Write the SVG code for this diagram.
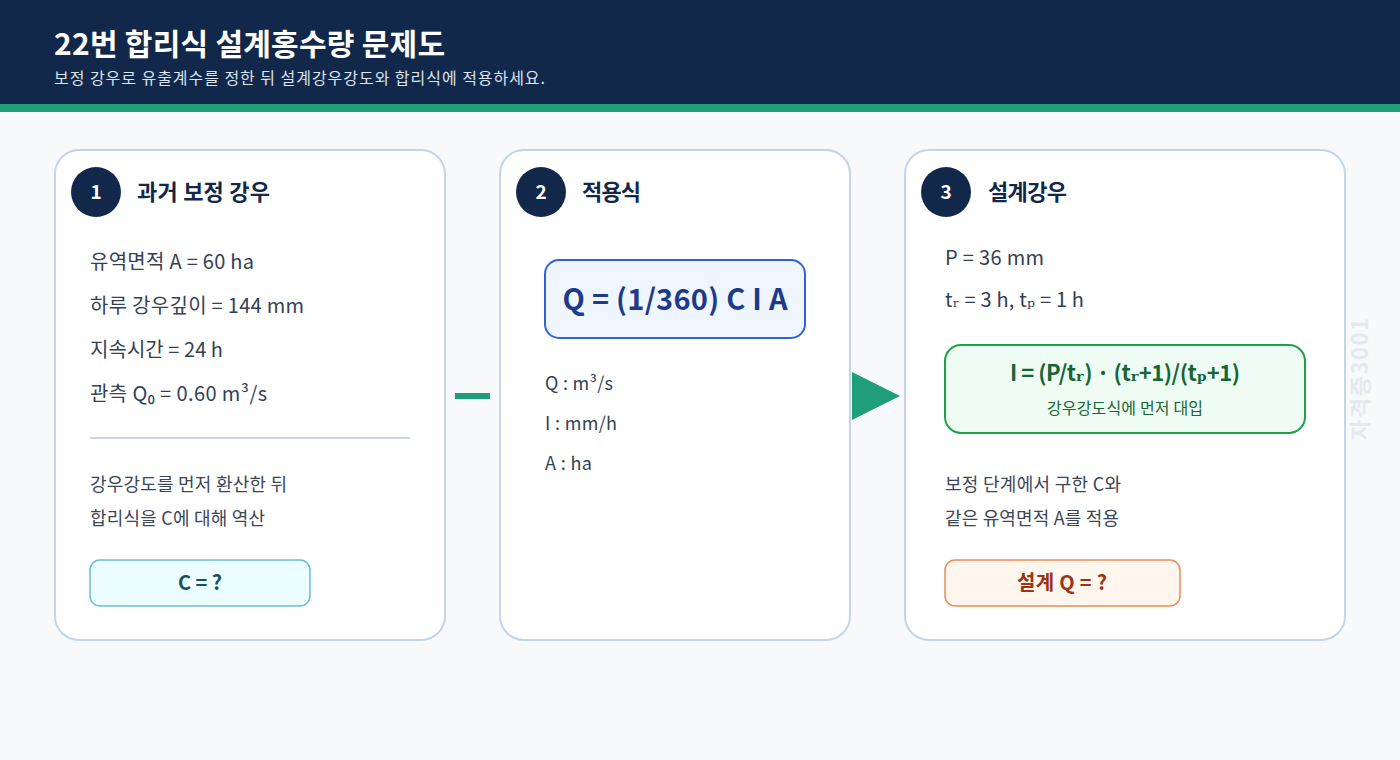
<svg xmlns="http://www.w3.org/2000/svg" width="1400" height="760" viewBox="0 0 1400 760">
<style>
text{font-family:"Noto Sans CJK KR","Noto Sans",sans-serif}
.card{fill:#ffffff;stroke:#c3d5e8;stroke-width:2}
.num{fill:#12284a}
.numt{fill:#ffffff;font-size:19px;font-weight:700;text-anchor:middle}
.ttl{fill:#12284a;font-size:22px;font-weight:700}
.body{fill:#334155;font-size:20px}
.small{fill:#3b4656;font-size:18px}
.unit{fill:#334155;font-size:18px}
.sub{font-family:"DejaVu Serif",serif}
</style>
<rect x="0" y="0" width="1400" height="760" fill="#f7f9fb"/>
<rect x="0" y="0" width="1400" height="104" fill="#12284a"/>
<rect x="0" y="104" width="1400" height="8" fill="#1f9e7a"/>
<text x="54" y="55" fill="#ffffff" font-size="30" font-weight="700" textLength="391" lengthAdjust="spacing">22번 합리식 설계홍수량 문제도</text>
<text x="54" y="84" fill="#dbe4ef" font-size="16" textLength="491" lengthAdjust="spacing">보정 강우로 유출계수를 정한 뒤 설계강우강도와 합리식에 적용하세요.</text>
<text transform="translate(1368,379) rotate(-90)" text-anchor="middle" fill="#e5e9ef" font-size="22" font-weight="700" textLength="122" lengthAdjust="spacing">자격증3001</text>
<g id="connectors">
<rect x="455" y="393" width="35" height="6" fill="#1f9e7a"/>
<polygon points="852,372 900,396 852,420" fill="#1f9e7a"/>
</g>
<g id="card1">
<rect class="card" x="55" y="150" width="390" height="490" rx="24"/>
<circle class="num" cx="96" cy="192" r="25"/>
<text class="numt" x="96" y="199">1</text>
<text class="ttl" x="137" y="200" textLength="133" lengthAdjust="spacing">과거 보정 강우</text>
<text class="body" x="90" y="269" textLength="164" lengthAdjust="spacing">유역면적 A = 60 ha</text>
<text class="body" x="90" y="313" textLength="214" lengthAdjust="spacing">하루 강우깊이 = 144 mm</text>
<text class="body" x="90" y="357" textLength="133" lengthAdjust="spacing">지속시간 = 24 h</text>
<text class="body" x="90" y="401" textLength="177" lengthAdjust="spacing">관측 Q₀ = 0.60 m³/s</text>
<line x1="90" y1="438" x2="410" y2="438" stroke="#cbd5e1" stroke-width="2"/>
<text class="small" x="90" y="491" textLength="197" lengthAdjust="spacing">강우강도를 먼저 환산한 뒤</text>
<text class="small" x="90" y="525" textLength="175" lengthAdjust="spacing">합리식을 C에 대해 역산</text>
<rect x="90" y="560" width="220" height="46" rx="10" fill="#ecfeff" stroke="#6cbdd0" stroke-width="1.5"/>
<text x="200" y="590" text-anchor="middle" fill="#164e63" font-size="20" font-weight="700" textLength="44" lengthAdjust="spacing">C = ?</text>
</g>
<g id="card2">
<rect class="card" x="500" y="150" width="350" height="490" rx="24"/>
<circle class="num" cx="541" cy="192" r="25"/>
<text class="numt" x="541" y="199">2</text>
<text class="ttl" x="582" y="200" textLength="59" lengthAdjust="spacing">적용식</text>
<rect x="545" y="260" width="260" height="78" rx="14" fill="#eff6ff" stroke="#2f63dd" stroke-width="2"/>
<text x="675" y="310" text-anchor="middle" fill="#1e3a8a" font-size="29" font-weight="700" textLength="225" lengthAdjust="spacing">Q = (1/360) C I A</text>
<text class="unit" x="545" y="390" textLength="68" lengthAdjust="spacing">Q : m³/s</text>
<text class="unit" x="545" y="430" textLength="72" lengthAdjust="spacing">I : mm/h</text>
<text class="unit" x="545" y="470" textLength="47" lengthAdjust="spacing">A : ha</text>
</g>
<g id="card3">
<rect class="card" x="905" y="150" width="440" height="490" rx="24"/>
<circle class="num" cx="946" cy="192" r="25"/>
<text class="numt" x="946" y="199">3</text>
<text class="ttl" x="988" y="200" textLength="79" lengthAdjust="spacing">설계강우</text>
<text class="body" x="945" y="265" textLength="99" lengthAdjust="spacing">P = 36 mm</text>
<text class="body" x="945" y="307" textLength="139" lengthAdjust="spacing">t<tspan class="sub">ᵣ</tspan> = 3 h, t<tspan class="sub">ₚ</tspan> = 1 h</text>
<rect x="945" y="345" width="360" height="88" rx="16" fill="#effcf3" stroke="#1fa14a" stroke-width="2"/>
<text x="1125" y="381" text-anchor="middle" fill="#166534" font-size="22" font-weight="700" textLength="230" lengthAdjust="spacing">I = (P/t<tspan class="sub">ᵣ</tspan>) · (t<tspan class="sub">ᵣ</tspan>+1)/(t<tspan class="sub">ₚ</tspan>+1)</text>
<text x="1125" y="414" text-anchor="middle" fill="#166534" font-size="16" textLength="156" lengthAdjust="spacing">강우강도식에 먼저 대입</text>
<text class="small" x="945" y="491" textLength="176" lengthAdjust="spacing">보정 단계에서 구한 C와</text>
<text class="small" x="945" y="525" textLength="174" lengthAdjust="spacing">같은 유역면적 A를 적용</text>
<rect x="945" y="560" width="235" height="46" rx="10" fill="#fff6ed" stroke="#ec8c55" stroke-width="1.5"/>
<text x="1062" y="590" text-anchor="middle" fill="#9a3412" font-size="20" font-weight="700" textLength="90" lengthAdjust="spacing">설계 Q = ?</text>
</g>
</svg>
